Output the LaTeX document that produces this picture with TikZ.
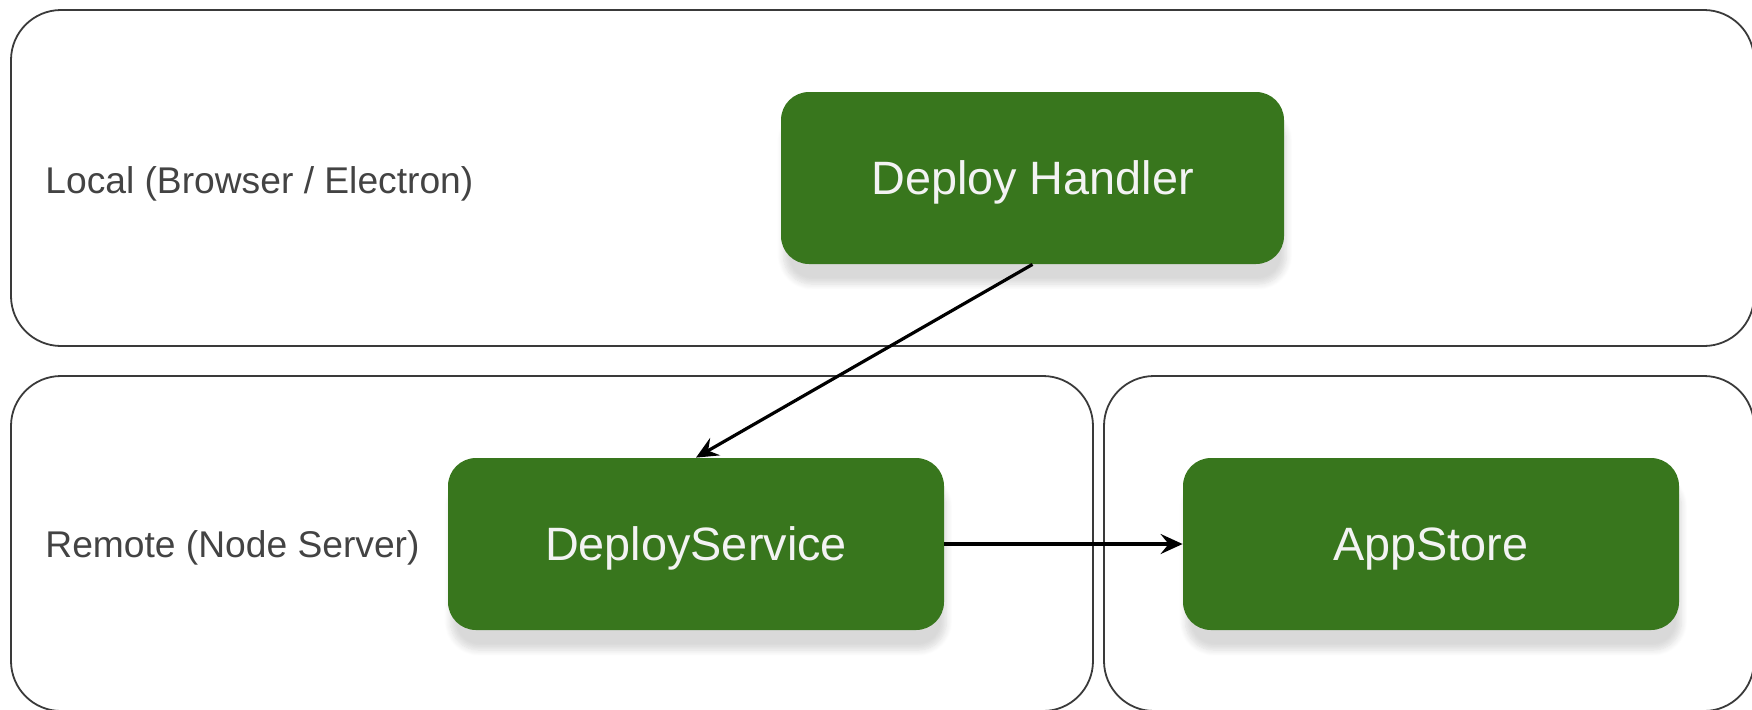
\documentclass[tikz,border=0pt]{standalone}
\usepackage{fontspec}
\setmainfont{Liberation Sans}
\usetikzlibrary{arrows.meta,shadows.blur}
\definecolor{boxgreen}{HTML}{38761D}
\definecolor{boxtext}{HTML}{F3F3F3}
\definecolor{labeltext}{HTML}{434343}
\definecolor{frameline}{HTML}{3A3A3A}
\begin{document}
\begin{tikzpicture}[x=0.5pt,y=-0.5pt,
  container/.style={draw=frameline, line width=0.9pt, rounded corners=25pt, inner sep=0pt},
  greenbox/.style={fill=boxgreen, rounded corners=14pt, inner sep=0pt,
    text=boxtext, font=\fontsize{23.4}{28}\selectfont,
    text height=16.75pt, text depth=0pt,
    blur shadow={shadow xshift=1.2pt, shadow yshift=-10pt, shadow blur radius=3pt, shadow blur steps=10, shadow opacity=15}},
  lanelabel/.style={text=labeltext, font=\fontsize{18.6}{22}\selectfont, anchor=base west, inner sep=0pt},
  flow/.style={draw=black, line width=1.6pt, -{Stealth[length=11pt, width=10pt, inset=4pt]}}
]
\useasboundingbox (0,0) rectangle (1752,709);
% swimlane containers
\node[container, minimum width=871.5pt, minimum height=168pt] (local) at (882.5,178) {};
\node[container, minimum width=541pt, minimum height=167.5pt] (remote) at (552,543.5) {};
\node[container, minimum width=325pt, minimum height=167.5pt] (store) at (1429,543.5) {};
% lane labels
\node[lanelabel] (locallabel) at (45,193) {Local (Browser / Electron)};
\node[lanelabel] (remotelabel) at (45,557) {Remote (Node Server)};
% components
\node[greenbox, minimum width=251.5pt, minimum height=86pt] (dh) at (1032.5,178) {Deploy Handler};
\node[greenbox, minimum width=248pt, minimum height=86pt] (ds) at (696,544) {DeployService};
\node[greenbox, minimum width=248pt, minimum height=86pt] (as) at (1431,544) {AppStore};
% connectors
\draw[flow] (dh.south) -- (ds.north);
\draw[flow] (ds.east) -- (as.west);
\end{tikzpicture}
\end{document}
